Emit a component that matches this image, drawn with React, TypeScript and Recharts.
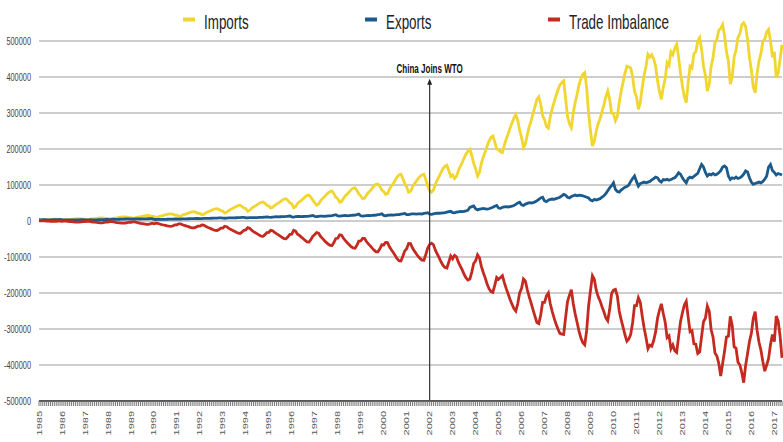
import { LineChart, Line, XAxis, YAxis, CartesianGrid, Legend, ReferenceLine } from 'recharts'

const FONT = '"Liberation Sans", Arial, Helvetica, sans-serif'
// the source image is squeezed horizontally, so all text is narrowed the same way
const SQUISH = 0.67

const YEARS = [
  1985, 1986, 1987, 1988, 1989, 1990, 1991, 1992, 1993, 1994, 1995,
  1996, 1997, 1998, 1999, 2000, 2001, 2002, 2003, 2004, 2005, 2006,
  2007, 2008, 2009, 2010, 2011, 2012, 2013, 2014, 2015, 2016, 2017,
]
const MONTHS = ['01', '02', '03', '04', '05', '06', '07', '08', '09', '10', '11', '12']
const Y_TICKS = [-500000, -400000, -300000, -200000, -100000, 0, 100000, 200000, 300000, 400000, 500000]
// imports peak above the last gridline, so the value range runs past it
const Y_DOMAIN = [-500000, 600000]
const SERIES = ['Imports', 'Exports', 'Trade Imbalance']

const WTO_MONTH = '2002-01'
const WTO_ARROW_TOP = 395000

// monthly, annualised, one row per year (Jan..Dec)
const imports = [
  3000, 2500, 2700, 3200, 3500, 3800, 4200, 4600, 4800, 5000, 4600, 4200,
  4000, 3300, 3500, 4200, 4700, 5000, 5500, 6000, 6300, 6500, 6000, 5400,
  5200, 4300, 4600, 5500, 6200, 6700, 7300, 8000, 8500, 8800, 8000, 7200,
  7000, 5800, 6200, 7400, 8300, 9000, 9800, 10700, 11300, 11600, 10600, 9500,
  9300, 7800, 8200, 9800, 11000, 12000, 13000, 14200, 15000, 15400, 14200, 12800,
  12500, 10200, 10800, 12800, 14400, 15600, 17000, 18500, 19500, 20000, 18500, 16500,
  16000, 13000, 13800, 16500, 18500, 20000, 22000, 24000, 25500, 26000, 24000, 21500,
  21000, 17500, 18500, 22000, 25000, 27000, 29500, 32000, 34000, 34500, 32000, 28500,
  27500, 22000, 24000, 28500, 32000, 34500, 37500, 40500, 43000, 44000, 40500, 36000,
  34000, 27000, 29500, 35000, 39000, 42000, 45500, 49000, 52000, 53000, 49000, 43500,
  42000, 36000, 38000, 43000, 47000, 50000, 54000, 58000, 61000, 62000, 57000, 51000,
  48000, 37000, 40000, 49000, 53000, 57000, 62000, 67000, 71000, 72000, 66000, 58000,
  50000, 44000, 47000, 56000, 62000, 67000, 73000, 78000, 82000, 83000, 76000, 66000,
  62000, 52000, 54000, 63000, 70000, 75000, 81000, 87000, 91000, 92000, 85000, 75000,
  70000, 62000, 63000, 72000, 79000, 84000, 91000, 97000, 102000, 103000, 96000, 86000,
  82000, 74000, 76000, 88000, 97000, 104000, 113000, 122000, 128000, 130000, 118000, 104000,
  95000, 80000, 82000, 94000, 103000, 110000, 118000, 124000, 128000, 130000, 115000, 98000,
  84000, 80000, 86000, 102000, 114000, 124000, 136000, 146000, 152000, 155000, 140000, 124000,
  128000, 118000, 124000, 140000, 152000, 162000, 175000, 186000, 194000, 199000, 182000, 160000,
  145000, 125000, 135000, 160000, 178000, 192000, 208000, 222000, 232000, 236000, 220000, 200000,
  198000, 192000, 190000, 210000, 228000, 242000, 258000, 272000, 286000, 296000, 280000, 252000,
  232000, 204000, 214000, 240000, 262000, 278000, 298000, 318000, 338000, 345000, 325000, 292000,
  282000, 262000, 258000, 290000, 312000, 330000, 348000, 364000, 378000, 384000, 389000, 340000,
  290000, 270000, 259000, 300000, 330000, 352000, 378000, 396000, 408000, 412000, 370000, 300000,
  250000, 208000, 222000, 250000, 270000, 284000, 304000, 322000, 345000, 361000, 338000, 300000,
  298000, 278000, 290000, 330000, 360000, 385000, 410000, 430000, 428000, 425000, 400000, 360000,
  345000, 310000, 330000, 370000, 405000, 430000, 463000, 455000, 462000, 450000, 430000, 390000,
  360000, 338000, 372000, 395000, 440000, 432000, 470000, 462000, 480000, 491000, 455000, 410000,
  375000, 345000, 329000, 385000, 430000, 425000, 465000, 470000, 500000, 509000, 478000, 430000,
  405000, 361000, 380000, 430000, 455000, 495000, 505000, 530000, 535000, 546000, 515000, 470000,
  445000, 380000, 400000, 455000, 475000, 510000, 520000, 545000, 551000, 540000, 505000, 455000,
  420000, 372000, 356000, 410000, 445000, 465000, 500000, 505000, 525000, 532000, 500000, 455000,
  470000, 398000, 410000, 450000, 490000,
]

const exportVals = [
  3500, 3200, 3600, 3800, 3500, 3400, 3300, 3500, 3600, 3800, 4000, 4200,
  3000, 2800, 3000, 3200, 3100, 3000, 3000, 3100, 3200, 3300, 3500, 3600,
  3200, 3000, 3300, 3500, 3400, 3300, 3400, 3500, 3600, 3800, 4000, 4200,
  4200, 4000, 4500, 4800, 4700, 4600, 4800, 5000, 5200, 5500, 5800, 6000,
  5500, 5200, 5600, 5900, 5800, 5600, 5700, 5900, 6000, 6200, 6400, 6600,
  4500, 4200, 4400, 4600, 4500, 4500, 4700, 4800, 5000, 5200, 5400, 5600,
  5500, 5200, 5600, 6000, 6100, 6000, 6200, 6400, 6600, 6800, 7000, 7200,
  6800, 6500, 7000, 7400, 7500, 7400, 7600, 7800, 8000, 8200, 8500, 8800,
  8000, 7600, 8200, 8600, 8800, 8700, 8800, 9000, 9200, 9400, 9800, 10200,
  9000, 8600, 9200, 9500, 9600, 9400, 9600, 9800, 10000, 10400, 11000, 11500,
  10500, 10000, 11000, 11500, 11800, 11500, 11800, 12000, 12300, 12600, 13200, 14000,
  11500, 11000, 12000, 12500, 12800, 12200, 12500, 12800, 13000, 13500, 14500, 15500,
  12500, 12000, 13000, 13500, 13800, 13000, 13500, 14000, 14500, 15000, 16000, 17500,
  14000, 13500, 14500, 15000, 15500, 14500, 15000, 15500, 16000, 16500, 17500, 19000,
  14500, 13500, 14500, 15000, 15500, 15000, 15500, 16000, 16500, 17500, 18500, 20000,
  15500, 14500, 16000, 16500, 17000, 16500, 17000, 17500, 18000, 19000, 20000, 21000,
  18000, 17500, 19000, 19500, 20000, 19000, 19500, 20000, 19500, 21000, 22000, 23000,
  19000, 18500, 20000, 21000, 22000, 21500, 22000, 22500, 23000, 24500, 26000, 27000,
  23000, 22500, 24500, 25500, 26500, 26000, 27000, 28000, 30000, 38000, 40000, 42000,
  34000, 31000, 33000, 34000, 35000, 34000, 33000, 34000, 36000, 38000, 41000, 43000,
  36000, 35000, 38000, 39000, 40000, 39000, 40000, 41000, 43000, 46000, 50000, 52000,
  45000, 43000, 47000, 49000, 51000, 50000, 51000, 53000, 56000, 60000, 64000, 66000,
  56000, 54000, 58000, 60000, 61000, 60000, 62000, 64000, 66000, 70000, 74000, 72000,
  66000, 64000, 68000, 70000, 72000, 70000, 72000, 71000, 70000, 68000, 66000, 64000,
  58000, 56000, 60000, 58000, 60000, 62000, 66000, 70000, 76000, 84000, 92000, 98000,
  106000, 88000, 82000, 80000, 86000, 90000, 94000, 96000, 100000, 110000, 118000, 125000,
  110000, 97000, 104000, 106000, 108000, 106000, 108000, 110000, 114000, 118000, 122000, 120000,
  112000, 108000, 115000, 114000, 116000, 113000, 115000, 118000, 120000, 126000, 134000, 130000,
  120000, 112000, 106000, 118000, 122000, 120000, 124000, 128000, 132000, 145000, 157000, 150000,
  135000, 125000, 130000, 128000, 132000, 128000, 130000, 134000, 140000, 150000, 153000, 148000,
  125000, 115000, 120000, 118000, 122000, 118000, 120000, 124000, 130000, 139000, 136000, 120000,
  108000, 102000, 104000, 106000, 108000, 106000, 110000, 116000, 125000, 150000, 157000, 140000,
  135000, 128000, 132000, 130000, 128000,
]

const balance = [
  500, 700, 900, 600, 0, -400, -900, -1100, -1200, -1200, -600, 0,
  -1000, -500, -500, -1000, -1600, -2000, -2500, -2900, -3100, -3200, -2500, -1800,
  -2000, -1300, -1300, -2000, -2800, -3400, -3900, -4500, -4900, -5000, -4000, -3000,
  -2800, -1800, -1700, -2600, -3600, -4400, -5000, -5700, -6100, -6100, -4800, -3500,
  -3800, -2600, -2600, -3900, -5200, -6400, -7300, -8300, -9000, -9200, -7800, -6200,
  -8000, -6000, -6400, -8200, -9900, -11100, -12300, -13700, -14500, -14800, -13100, -10900,
  -10500, -7800, -8200, -10500, -12400, -14000, -15800, -17600, -18900, -19200, -17000, -14300,
  -14200, -11000, -11500, -14600, -17500, -19600, -21900, -24200, -26000, -26300, -23500, -19700,
  -19500, -14400, -15800, -19900, -23200, -25800, -28700, -31500, -33800, -34600, -30700, -25800,
  -25000, -18400, -20300, -25500, -29400, -32600, -35900, -39200, -42000, -42600, -38000, -32000,
  -31500, -26000, -27000, -31500, -35200, -38500, -42200, -46000, -48700, -49400, -43800, -37000,
  -36500, -26000, -28000, -36500, -40200, -44800, -49500, -54200, -58000, -58500, -51500, -42500,
  -37500, -32000, -34000, -42500, -48200, -54000, -59500, -64000, -67500, -68000, -60000, -48500,
  -48000, -38500, -39500, -48000, -54500, -60500, -66000, -71500, -75000, -75500, -67500, -56000,
  -55500, -48500, -48500, -57000, -63500, -69000, -75500, -81000, -85500, -85500, -77500, -66000,
  -66500, -59500, -60000, -71500, -80000, -87500, -96000, -104500, -110000, -111000, -98000, -83000,
  -77000, -62500, -63000, -74500, -83000, -91000, -98500, -104000, -108500, -109000, -93000, -75000,
  -65000, -61500, -66000, -81000, -92000, -102500, -114000, -123500, -129000, -130500, -114000, -97000,
  -105000, -95500, -99500, -114500, -125500, -136000, -148000, -158000, -164000, -161000, -142000, -118000,
  -111000, -94000, -102000, -126000, -143000, -158000, -175000, -188000, -196000, -198000, -179000, -157000,
  -162000, -157000, -152000, -171000, -188000, -203000, -218000, -231000, -243000, -250000, -230000, -200000,
  -187000, -161000, -167000, -191000, -211000, -228000, -247000, -265000, -282000, -285000, -261000, -226000,
  -226000, -208000, -200000, -230000, -251000, -270000, -286000, -300000, -312000, -314000, -315000, -268000,
  -224000, -206000, -191000, -230000, -258000, -282000, -306000, -325000, -338000, -344000, -304000, -236000,
  -192000, -152000, -162000, -192000, -210000, -222000, -238000, -252000, -269000, -277000, -246000, -202000,
  -192000, -190000, -208000, -250000, -274000, -295000, -316000, -334000, -328000, -315000, -282000, -235000,
  -235000, -213000, -226000, -264000, -297000, -324000, -355000, -345000, -348000, -332000, -308000, -270000,
  -248000, -230000, -257000, -281000, -324000, -319000, -355000, -344000, -360000, -365000, -321000, -280000,
  -255000, -233000, -223000, -267000, -308000, -305000, -341000, -342000, -368000, -364000, -321000, -280000,
  -270000, -236000, -250000, -302000, -323000, -367000, -375000, -396000, -431000, -396000, -362000, -322000,
  -320000, -265000, -290000, -350000, -353000, -392000, -400000, -421000, -449000, -401000, -369000, -335000,
  -312000, -270000, -252000, -304000, -337000, -359000, -390000, -417000, -400000, -382000, -343000, -315000,
  -335000, -264000, -278000, -320000, -380000,
]

const COLORS: Record<string, string> = { Imports: '#f0d62e', Exports: '#1b5a8c', 'Trade Imbalance': '#c42a1f' }

const monthKeys = YEARS.flatMap(y => MONTHS.map(m => `${y}-${m}`)).slice(0, imports.length)
const data = monthKeys.map((month, i) => ({
  month,
  Imports: imports[i],
  Exports: exportVals[i],
  'Trade Imbalance': balance[i],
}))

// eslint-disable-next-line @typescript-eslint/no-explicit-any
const YTick = ({ x, y, payload }: any) => (
  <text transform={`translate(${x},${y}) scale(${SQUISH},1)`} textAnchor="end" dy="0.35em"
    fontSize={11} fill="#444" fontFamily={FONT}>{payload.value}</text>
)

// eslint-disable-next-line @typescript-eslint/no-explicit-any
const XTick = ({ x, y, payload }: any) => {
  const v = String(payload.value)
  if (!v.endsWith('-01')) return <g />
  return (
    <text transform={`translate(${x},${y}) scale(${SQUISH},1) rotate(-90)`} textAnchor="end" dy="0.35em"
      fontSize={11} fill="#555" fontFamily={FONT}>{v.slice(0, 4)}</text>
  )
}

// eslint-disable-next-line @typescript-eslint/no-explicit-any
const WtoMarker = ({ x1, y1, y2 }: any) => {
  const top = Math.min(y1, y2)
  const bottom = Math.max(y1, y2)
  return (
    <g>
      <line x1={x1} x2={x1} y1={bottom} y2={top + 4} stroke="#333" strokeWidth={1.2} />
      <polygon points={`${x1},${top} ${x1 - 2.5},${top + 6} ${x1 + 2.5},${top + 6}`} fill="#222" />
      <text transform={`translate(${x1},${top - 6}) scale(${SQUISH},1)`} textAnchor="middle"
        fontSize={12} fontWeight="bold" fill="#111" fontFamily={FONT}>China Joins WTO</text>
    </g>
  )
}

const LEGEND_X = [183, 365, 548]

const renderLegend = () => (
  <svg width={783} height={41} style={{ display: 'block' }}>
    {SERIES.map((name, i) => (
      <g key={name} transform={`translate(${LEGEND_X[i]},0)`}>
        <rect x={0} y={17.5} width={12} height={4} fill={COLORS[name]} />
        <text transform={`translate(21,28.5) scale(${SQUISH},1)`} fontSize={20} fill="#222" fontFamily={FONT}>{name}</text>
      </g>
    ))}
  </svg>
)

export default function App() {
  return (
    <div style={{ position: 'absolute', left: 0, top: 0, width: 783, height: 442, background: '#fff' }}>
      <LineChart width={783} height={442} data={data} margin={{ top: 5, right: 1, bottom: 0, left: 0 }}
        style={{ fontFamily: FONT }}>
        <CartesianGrid vertical={false} horizontalValues={Y_TICKS} stroke="#cdcdcd" strokeWidth={2} />
        <XAxis dataKey="month" interval={0} height={41} tickSize={5} tickMargin={5}
          axisLine={{ stroke: '#555', strokeWidth: 2 }} tickLine={{ stroke: '#777' }} tick={XTick} />
        <YAxis domain={Y_DOMAIN} ticks={Y_TICKS} width={39} axisLine={false} tickLine={false} tick={YTick} />
        <Legend verticalAlign="middle" content={renderLegend}
          wrapperStyle={{ top: 0, left: 0, width: 783, height: 41, margin: 0 }} />
        {SERIES.map(name => (
          <Line key={name} type="linear" dataKey={name} stroke={COLORS[name]} strokeWidth={2.8}
            dot={false} isAnimationActive={false} />
        ))}
        <ReferenceLine segment={[{ x: WTO_MONTH, y: Y_TICKS[0] }, { x: WTO_MONTH, y: WTO_ARROW_TOP }]}
          ifOverflow="visible" shape={WtoMarker} />
      </LineChart>
    </div>
  )
}
